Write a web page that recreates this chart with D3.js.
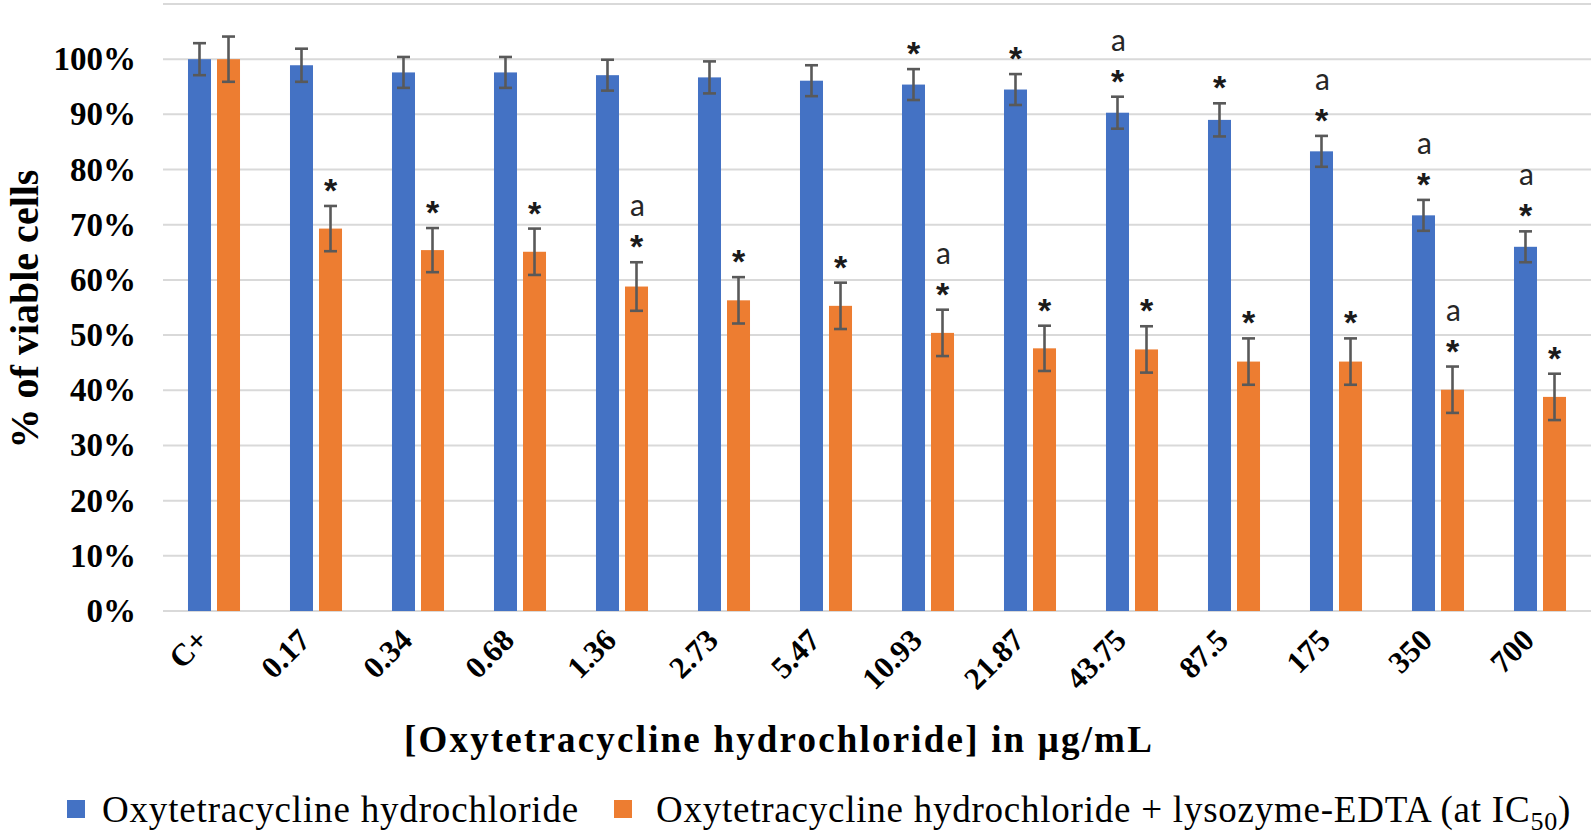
<!DOCTYPE html>
<html>
<head>
<meta charset="utf-8">
<script src="https://cdn.jsdelivr.net/npm/d3@7/dist/d3.min.js"></script>
<style>
  html, body { margin: 0; padding: 0; background: #fff; }
  svg { display: block; }
</style>
</head>
<body>
<svg id="chart" width="1594" height="836"></svg>
<script>
// ---------------- DATA ----------------
const categories = ["C+", "0.17", "0.34", "0.68", "1.36", "2.73", "5.47", "10.93", "21.87", "43.75", "87.5", "175", "350", "700"];
const seriesNames = ["Oxytetracycline hydrochloride", "Oxytetracycline hydrochloride + lysozyme-EDTA (at IC50)"];
const oxyValues   = [100, 98.9, 97.6, 97.6, 97.1, 96.7, 96.1, 95.4, 94.5, 90.3, 89.0, 83.3, 71.7, 66.0];
const oxyErrors   = [2.9, 3.0, 2.8, 2.8, 2.8, 2.9, 2.8, 2.8, 2.8, 2.9, 3.0, 2.8, 2.8, 2.8];
const comboValues = [100, 69.3, 65.4, 65.1, 58.8, 56.3, 55.3, 50.4, 47.6, 47.4, 45.2, 45.2, 40.1, 38.8];
const comboErrors = [4.1, 4.1, 4.0, 4.2, 4.4, 4.2, 4.2, 4.2, 4.1, 4.2, 4.2, 4.2, 4.2, 4.2];
const oxyStars    = ["", "", "", "", "", "", "", "*", "*", "*", "*", "*", "*", "*"];
const oxyLetters  = ["", "", "", "", "", "", "", "", "", "a", "", "a", "a", "a"];
const comboStars  = ["", "*", "*", "*", "*", "*", "*", "*", "*", "*", "*", "*", "*", "*"];
const comboLetters= ["", "", "", "", "a", "", "", "a", "", "", "", "", "a", ""];
const yTicks      = [0, 10, 20, 30, 40, 50, 60, 70, 80, 90, 100];
const yGrid       = [0, 10, 20, 30, 40, 50, 60, 70, 80, 90, 100, 110];
const yTitle = "% of viable cells";
const xTitle = "[Oxytetracycline hydrochloride] in \u03BCg/mL";
const colors = ["#4472C4", "#ED7D31"];

// ---------------- LAYOUT ----------------
const svg = d3.select("#chart");
const plot = { left: 163, right: 1591, top: 4, bottom: 611 };
const serif = "'Liberation Serif', 'Times New Roman', serif";
const sans = "Lato, 'Open Sans', sans-serif";

const y = d3.scaleLinear().domain([0, 110]).range([plot.bottom, plot.top]);
const x0 = d3.scaleBand().domain(categories).range([plot.left, plot.right])
  .paddingInner(0.49).paddingOuter(0.245);
const x1 = d3.scaleBand().domain([0, 1]).range([0, x0.bandwidth()]).paddingInner(0.207);

// gridlines
svg.append("g").selectAll("line").data(yGrid).join("line")
  .attr("x1", plot.left).attr("x2", plot.right)
  .attr("y1", d => y(d)).attr("y2", d => y(d))
  .attr("stroke", "#d9d9d9").attr("stroke-width", 2);

// y tick labels
svg.append("g").selectAll("text").data(yTicks).join("text")
  .attr("x", 136).attr("y", d => y(d))
  .attr("text-anchor", "end").attr("dominant-baseline", "central")
  .attr("font-family", serif).attr("font-weight", "bold").attr("font-size", 33)
  .attr("fill", "#000")
  .text(d => d + "%");

// bars
const seriesData = [
  { values: oxyValues, errors: oxyErrors, stars: oxyStars, letters: oxyLetters },
  { values: comboValues, errors: comboErrors, stars: comboStars, letters: comboLetters }
];

seriesData.forEach((s, si) => {
  const g = svg.append("g");
  const rows = categories.map((c, i) => ({ c, v: s.values[i], e: s.errors[i], star: s.stars[i], letter: s.letters[i] }));
  const cx = d => x0(d.c) + x1(si) + x1.bandwidth() / 2;
  g.selectAll("rect").data(rows).join("rect")
    .attr("x", d => x0(d.c) + x1(si))
    .attr("width", x1.bandwidth())
    .attr("y", d => y(d.v))
    .attr("height", d => y(0) - y(d.v))
    .attr("fill", colors[si]);
  // error bars
  const eb = g.append("g").attr("stroke", "#595959").attr("stroke-width", 2.6);
  eb.selectAll("line.v").data(rows).join("line").attr("class", "v")
    .attr("x1", cx).attr("x2", cx)
    .attr("y1", d => y(d.v + d.e)).attr("y2", d => y(d.v - d.e));
  eb.selectAll("line.t").data(rows).join("line").attr("class", "t")
    .attr("x1", d => cx(d) - 6.5).attr("x2", d => cx(d) + 6.5)
    .attr("y1", d => y(d.v + d.e)).attr("y2", d => y(d.v + d.e));
  eb.selectAll("line.b").data(rows).join("line").attr("class", "b")
    .attr("x1", d => cx(d) - 6.5).attr("x2", d => cx(d) + 6.5)
    .attr("y1", d => y(d.v - d.e)).attr("y2", d => y(d.v - d.e));
  // annotations
  const starOff = 21, letterOff = 33;
  rows.forEach(d => {
    const top = y(d.v + d.e);
    if (d.star) {
      g.append("text").attr("x", cx(d)).attr("y", (top - starOff) + 0.5 * 34)
        .attr("text-anchor", "middle").attr("font-family", "'Liberation Sans', Arial, sans-serif")
        .attr("font-weight", "bold")
        .attr("font-size", 34).attr("fill", "#1a1a1a").text(d.star);
    }
    if (d.letter) {
      g.append("text").attr("x", cx(d) + 1).attr("y", top - starOff - letterOff + 8)
        .attr("text-anchor", "middle").attr("font-family", sans)
        .attr("font-size", 30).attr("fill", "#262626").text(d.letter);
    }
  });
});

// x tick labels
svg.append("g").selectAll("text").data(categories).join("text")
  .attr("transform", d => `translate(${x0(d) + x0.bandwidth() / 2 - 4},642) rotate(-45)`)
  .attr("text-anchor", "end")
  .attr("font-family", serif).attr("font-weight", "bold").attr("font-size", 31)
  .attr("fill", "#000")
  .text(d => d);

// helper: spread letters to reach target width
function fitWidth(sel, target) {
  const w = sel.node().getComputedTextLength();
  const n = sel.text().length;
  if (w < target) sel.attr("letter-spacing", (target - w) / n);
}

// y title
const yt = svg.append("text")
  .attr("transform", "translate(38,309) rotate(-90)")
  .attr("text-anchor", "middle")
  .attr("font-family", serif).attr("font-weight", "bold").attr("font-size", 40)
  .attr("fill", "#000").text(yTitle);

// x title
const xt = svg.append("text")
  .attr("x", 404).attr("y", 752)
  .attr("font-family", serif).attr("font-weight", "bold").attr("font-size", 37)
  .attr("fill", "#000").text(xTitle);
fitWidth(xt, 750);

// legend
const legendY = 822;
svg.append("rect").attr("x", 67).attr("y", 800).attr("width", 18).attr("height", 18).attr("fill", colors[0]);
const l1 = svg.append("text").attr("x", 102).attr("y", legendY)
  .attr("font-family", serif).attr("font-size", 37).attr("fill", "#000").text(seriesNames[0]);
fitWidth(l1, 477);

svg.append("rect").attr("x", 614).attr("y", 800).attr("width", 18).attr("height", 18).attr("fill", colors[1]);
const l2 = svg.append("text").attr("x", 656).attr("y", legendY)
  .attr("font-family", serif).attr("font-size", 37).attr("fill", "#000");
l2.append("tspan").text("Oxytetracycline hydrochloride + lysozyme-EDTA (at IC");
l2.append("tspan").attr("font-size", 26).attr("dy", 8).text("50");
l2.append("tspan").attr("dy", -8).text(")");
{
  const w = l2.node().getComputedTextLength();
  const n = l2.text().length;
  const target = 915;
  if (w < target) l2.attr("letter-spacing", (target - w) / n);
}
</script>
</body>
</html>
